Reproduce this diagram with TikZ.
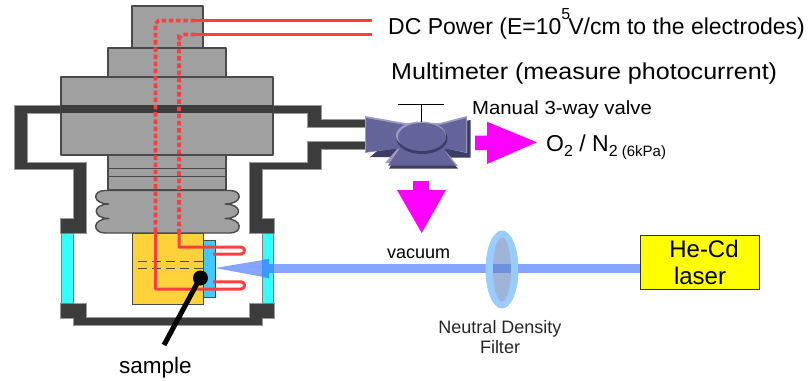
\documentclass[tikz,border=0pt]{standalone}
\usepackage{fontspec}
\setmainfont{Liberation Sans}
\definecolor{wall}{HTML}{3C3C3C}
\definecolor{block}{HTML}{A0A0A0}
\definecolor{edge}{HTML}{4A4A4A}
\definecolor{wire}{HTML}{FF3F3F}
\definecolor{beam}{HTML}{85A5FF}
\definecolor{valve}{HTML}{64649A}
\definecolor{valved}{HTML}{3C3C64}
\definecolor{valvel}{HTML}{9C9CC8}
\definecolor{windowc}{HTML}{33FFFF}
\definecolor{samplec}{HTML}{40C8FF}
\definecolor{holder}{HTML}{FFD23C}
\definecolor{pinkc}{HTML}{FF00FF}
\definecolor{lensout}{HTML}{99CCFF}
\definecolor{lensin}{HTML}{A0B4D8}
\definecolor{lensbeam}{HTML}{6F90DD}
\definecolor{beamwin}{HTML}{3C96FF}
\definecolor{laserc}{HTML}{FFFF00}
\tikzset{
  wallp/.style={fill=wall,draw=gray!80,line width=0.5pt},
  blockp/.style={fill=block,draw=edge,line width=1.4pt,line join=round},
  wiresolid/.style={draw=wire,line width=3pt,line join=round},
  wiredash/.style={draw=wire,line width=3.6pt,dash pattern=on 4.5pt off 2.7pt},
  win/.style={fill=windowc,draw=gray,line width=1pt},
  pink/.style={fill=pinkc,draw=none},
  lbl/.style={inner sep=0pt,anchor=base west,text=black}
}
\begin{document}
\begin{tikzpicture}[x=1pt,y=-1pt]
\useasboundingbox[fill=white] (0,0) rectangle (808,380);
% walls
\filldraw[wallp] (14,105)--(321,105)--(321,119)--(365,119)--(365,127)--(307,127)--(307,113)--(27,113)--(27,162)--(86,162)--(86,233)--(60,233)--(60,218)--(73,218)--(73,169)--(14,169)--cycle;
\filldraw[wallp] (365,141)--(307,141)--(307,162)--(249,162)--(249,233)--(274,233)--(274,218)--(262,218)--(262,169)--(321,169)--(321,149)--(365,149)--cycle;
\filldraw[wallp] (60,303)--(86,303)--(86,317)--(249,317)--(249,303)--(274,303)--(274,318)--(262,318)--(262,325.5)--(73,325.5)--(73,318)--(60,318)--cycle;
\filldraw[win] (61,233) rectangle (73,303);
\filldraw[win] (262,233) rectangle (273.5,303);
% body
\filldraw[blockp] (132,6) rectangle (203,48);
\filldraw[blockp] (108,48) rectangle (226,77);
\filldraw[blockp] (61,77) rectangle (273,155);
\fill[wall] (61,105) rectangle (273,113);
\filldraw[blockp] (108,155) rectangle (226,190);
\draw[edge,line width=1pt] (108,168.5)--(226,168.5) (108,176)--(226,176);
% bellows
\filldraw[blockp] (110,190.5)--(105,190.5)
 .. controls (92,190.5) and (92,204) .. (109,204)
 .. controls (92,204) and (92,218.5) .. (109,218.5)
 .. controls (92,218.5) and (92,233) .. (105,233)
 -- (230,233)
 .. controls (243,233) and (243,218.5) .. (225,218.5)
 .. controls (243,218.5) and (243,204) .. (225,204)
 .. controls (243,204) and (243,190.5) .. (230,190.5) -- cycle;
% sample holder
\filldraw[fill=samplec,draw=edge,line width=1pt] (203,240) rectangle (215,297);
\filldraw[fill=holder,draw=edge,line width=1pt] (132,233) rectangle (203,304);
\draw[edge,line width=0.9pt,dash pattern=on 9pt off 5pt] (138,261)--(203,261) (138,268)--(203,268);
% wires
\draw[wiresolid] (372,20.5)--(195,20.5);
\draw[wiresolid] (372,34.5)--(195,34.5);
\draw[wiredash] (195,20.5)--(159,20.5) to[out=180,in=-90] (155.5,24)--(155.5,233);
\draw[wiredash] (195,34.5)--(183,34.5) to[out=180,in=-90] (179,38)--(179,233);
\draw[wiresolid] (155.5,230)--(155.5,289)--(241,289) arc[start angle=90,end angle=-90,radius=3.6] -- (213,281.8);
\draw[wiresolid] (179,230)--(179,247)--(241,247) arc[start angle=-90,end angle=90,radius=3.5] -- (213,254);
% sample pointer
\fill[black] (200.5,278) circle (7.5);
\draw[black,line width=5pt] (200,278)--(164,345);
% beam
\fill[beam] (640,264) rectangle (268,272.7);
\fill[beam] (215,268)--(269,259)--(269,278)--cycle;
\fill[beamwin] (262,259.8)--(269,259)--(269,278)--(262,277)--cycle;
\fill[beamwin] (269,264) rectangle (273.5,272.7);
% lens
\fill[lensout] (502,269.5) ellipse (16.5 and 39);
\fill[lensin] (502,269.5) ellipse (9 and 32);
\fill[lensbeam] (493,264) rectangle (511,272.7);
\fill[beam] (518.2,264) rectangle (640,272.7);
% laser
\node[draw=black!80,fill=laserc,line width=1pt,minimum width=119pt,minimum height=54pt,inner sep=0pt,align=center,font=\fontsize{24}{27}\selectfont] (laser) at (700,262.5) {\hspace{8pt}He-Cd\\laser};
% valve
\fill[valved] (370,157)--(470.7,157.7)--(470.7,120)--(400,132)--cycle;
\fill[valvel] (385,163)--(398,148)--(443,148)--(458,166)--cycle;
\fill[valved] (389,168.5)--(458,168.5)--(450,160)--(395,160)--cycle;
\fill[valve] (388,165.5)--(400,148)--(443,148)--(455,165.5)--cycle;
\fill[valvel] (365,116)--(405,123)--(440,123)--(467,116)--(467,153)--(440,147)--(405,147)--(365,153)--cycle;
\fill[valve] (366,118)--(405,125)--(440,125)--(466,118)--(466,152)--(440,148)--(405,148)--(366,152)--cycle;
\fill[valved] (422,138.5) ellipse (25.5 and 15.5);
\fill[valvel] (421,135.5) ellipse (25 and 14);
\fill[valve] (422,137) ellipse (24 and 14);
\draw[black,line width=1pt] (398,104.5)--(444,104.5) (421,104.5)--(421,122);
% pink arrows
\fill[pink] (475,135.7)--(487,135.7)--(487,121.7)--(537,142.3)--(487,164)--(487,150)--(475,150)--cycle;
\fill[pink] (413,181)--(429,181)--(429,190)--(446,190)--(421.7,233)--(397,190)--(413,190)--cycle;
% texts
\node[lbl,font=\fontsize{23}{25}\selectfont] (dc) at (388,34) {DC Power (E=10\raisebox{15pt}{\fontsize{16}{18}\selectfont 5}\kern-2pt V/cm to the electrodes)};
\node[lbl,font=\fontsize{23}{25}\selectfont] (multi) at (391,79.5) {\scalebox{1.09}[1]{Multimeter (measure photocurrent)}};
\node[lbl,font=\fontsize{19}{20}\selectfont] (man) at (472,114.5) {\scalebox{1.07}[1]{Manual 3-way valve}};
\node[lbl,font=\fontsize{23}{25}\selectfont] (gas) at (546,151.5) {O\raisebox{-5pt}{\fontsize{16}{18}\selectfont 2} / N\raisebox{-5pt}{\fontsize{16}{18}\selectfont 2}\raisebox{-5pt}{\fontsize{15}{16}\selectfont\ (6kPa)}};
\node[lbl,font=\fontsize{18}{20}\selectfont] (vac) at (387,258.5) {vacuum};
\node[inner sep=0pt,align=center,text=black!85,font=\fontsize{18}{20}\selectfont] (nd) at (500,337.5) {Neutral Density\\Filter};
\node[lbl,font=\fontsize{22.5}{25}\selectfont] (sam) at (119,373.5) {sample};
\end{tikzpicture}
\end{document}
